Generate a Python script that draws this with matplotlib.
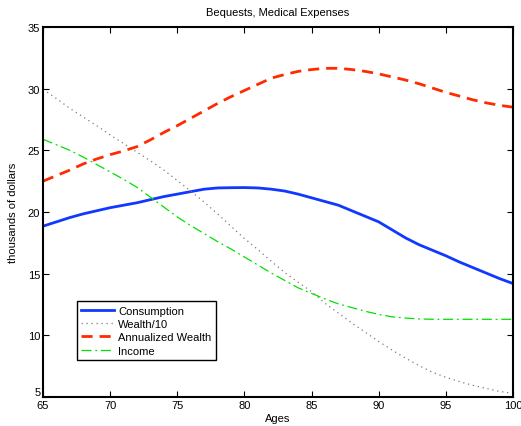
import matplotlib
matplotlib.use("Agg")
import matplotlib.pyplot as plt

ages = list(range(65, 101))
consumption = [18.85, 19.2, 19.55, 19.85, 20.1, 20.35, 20.55, 20.75, 21.0, 21.25,
               21.45, 21.65, 21.85, 21.95, 21.97, 21.98, 21.95, 21.85, 21.7, 21.45,
               21.15, 20.85, 20.55, 20.1, 19.65, 19.2, 18.55, 17.9, 17.35, 16.9,
               16.45, 15.95, 15.5, 15.05, 14.6, 14.2]
wealth10 = [29.95, 29.2, 28.4, 27.7, 27.0, 26.25, 25.55, 24.85, 24.15, 23.4,
            22.55, 21.7, 20.8, 19.85, 18.85, 17.85, 16.95, 16.0, 15.1, 14.3,
            13.55, 12.6, 11.8, 11.0, 10.25, 9.5, 8.8, 8.15, 7.55, 7.0,
            6.6, 6.25, 5.95, 5.7, 5.45, 5.3]
annualized = [22.5, 22.95, 23.4, 23.9, 24.3, 24.65, 24.95, 25.3, 25.85, 26.45,
              27.0, 27.6, 28.2, 28.8, 29.35, 29.85, 30.35, 30.85, 31.15, 31.4,
              31.55, 31.65, 31.65, 31.55, 31.4, 31.2, 30.95, 30.7, 30.4, 30.05,
              29.7, 29.4, 29.1, 28.85, 28.65, 28.5]
income = [25.9, 25.45, 25.0, 24.45, 23.85, 23.25, 22.65, 22.0, 21.2, 20.4,
          19.6, 18.9, 18.25, 17.6, 17.0, 16.35, 15.7, 15.05, 14.45, 13.85,
          13.4, 12.95, 12.55, 12.25, 11.95, 11.7, 11.5, 11.4, 11.33, 11.3,
          11.3, 11.3, 11.3, 11.3, 11.3, 11.3]

xticks = [65, 70, 75, 80, 85, 90, 95, 100]
yticks = [5, 10, 15, 20, 25, 30, 35]

plt.rcParams['font.family'] = ['Liberation Sans', 'DejaVu Sans']
plt.rcParams['font.size'] = 8

fig = plt.figure(figsize=(5.21, 4.27), dpi=100)
ax = fig.add_axes([43/521, 29/427, 470/521, 370/427])

ax.plot(ages, consumption, color='#1038ff', lw=2.0, label='Consumption')
ax.plot(ages, wealth10, color='#7a7a7a', lw=0.9, linestyle=(0, (1, 3)), label='Wealth/10')
ax.plot(ages, annualized, color='#ff2a00', lw=2.0, linestyle=(0, (4, 2.5)), label='Annualized Wealth')
ax.plot(ages, income, color='#00e000', lw=0.9, linestyle=(0, (8, 3, 1.5, 3)), label='Income')

ax.set_xlim(65, 100)
ax.set_ylim(5, 35)
ax.set_xticks(xticks)
ax.set_yticks(yticks)
ax.tick_params(direction='in', top=True, right=True, length=4, width=0.8, pad=2, labelsize=8)
for s in ax.spines.values():
    s.set_linewidth(1.5)

fig.canvas.draw()
ylabels = ax.get_yticklabels()
ylabels[0].set_verticalalignment('bottom')

ax.set_title('Bequests, Medical Expenses', fontsize=8, pad=9)
ax.set_xlabel('Ages', fontsize=8, labelpad=2)
ax.set_ylabel('thousands of dollars', fontsize=8, labelpad=7)

leg = ax.legend(loc='lower left', bbox_to_anchor=(0.072, 0.1), borderaxespad=0,
                fancybox=False, framealpha=1, edgecolor='black', fontsize=8,
                handlelength=2.9, labelspacing=0.3, borderpad=0.4, handletextpad=0.4)
leg.get_frame().set_linewidth(1.0)

fig.savefig('out.png', dpi=100)
